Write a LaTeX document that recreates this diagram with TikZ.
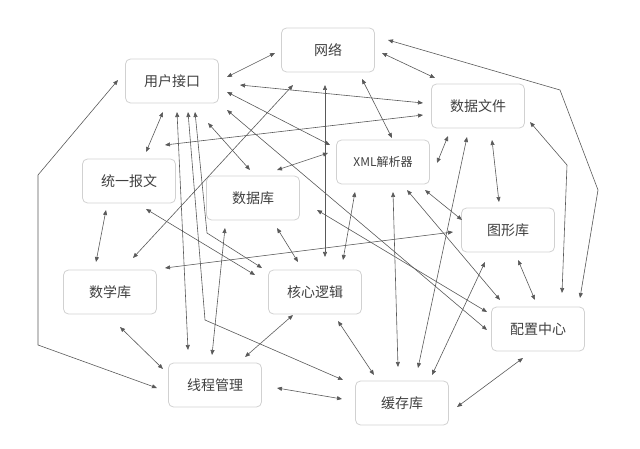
\documentclass[tikz,border=0pt]{standalone}
\usepackage{fontspec}
\newfontfamily\cjk{Noto Sans CJK SC}
\setmainfont{Liberation Serif}
\usetikzlibrary{arrows.meta}
\begin{document}
\begin{tikzpicture}[x=1pt,y=-1pt,
 box/.style={draw=black!18,line width=0.8pt,rounded corners=5pt,minimum width=93pt,minimum height=44pt,inner sep=0pt,font=\cjk\fontsize{14}{16}\selectfont,text=black!75},
 lk/.style={draw=black!65,line width=0.6pt,{Triangle[length=5pt,width=4pt]}-{Triangle[length=5pt,width=4pt]}}]
\useasboundingbox (0,0) rectangle (640,449);
\node[box] (ui) at (172,81) {用户接口};
\node[box] (net) at (328,50) {网络};
\node[box] (df) at (478,106) {数据文件};
\node[box] (xml) at (383,162) {\fontsize{12}{14}\selectfont XML解析器};
\node[box] (msg) at (129,181) {统一报文};
\node[box] (db) at (253,198) {数据库};
\node[box] (gfx) at (508,230) {图形库};
\node[box] (math) at (110,292) {数学库};
\node[box] (core) at (315,292) {核心逻辑};
\node[box] (cfg) at (538,329) {配置中心};
\node[box] (thr) at (215,385) {线程管理};
\node[box] (cache) at (402,403) {缓存库};
\draw[lk] (227,77)--(275,53);
\draw[lk] (240,85)--(423,103);
\draw[lk] (227,92)--(330,145);
\draw[lk] (277,170)--(328,153);
\draw[lk] (227,110)--(487,330);
\draw[lk] (317,210)--(487,312);
\draw[lk] (407,190)--(500,300);
\draw[lk] (425,190)--(462,220);
\draw[lk] (163,112)--(146,152);
\draw[lk] (177,112)--(188,350);
\draw[lk] (188,112)--(205,320)--(343,380);
\draw[lk] (195,112)--(207,233)--(262,268);
\draw[lk] (208,123)--(250,170);
\draw[lk] (106,210)--(96,262);
\draw[lk] (146,209)--(255,275);
\draw[lk] (293,85)--(133,258);
\draw[lk] (423,115)--(165,145);
\draw[lk] (382,53)--(435,78);
\draw[lk] (362,79)--(392,138);
\draw[lk] (325,85)--(325,257);
\draw[lk] (388,40)--(560,90)--(598,190)--(580,298);
\draw[lk] (530,122)--(567,165)--(562,293);
\draw[lk] (492,140)--(499,202);
\draw[lk] (448,136)--(437,163);
\draw[lk] (467,137)--(418,368);
\draw[lk] (118,80)--(38,175)--(38,345)--(157,388);
\draw[lk] (453,232)--(165,268);
\draw[lk] (277,228)--(298,262);
\draw[lk] (225,228)--(212,355);
\draw[lk] (355,192)--(343,260);
\draw[lk] (393,192)--(398,367);
\draw[lk] (485,262)--(432,375);
\draw[lk] (518,260)--(535,300);
\draw[lk] (523,358)--(457,407);
\draw[lk] (338,321)--(374,375);
\draw[lk] (293,315)--(245,357);
\draw[lk] (120,327)--(163,369);
\draw[lk] (342,399)--(277,388);
\end{tikzpicture}
\end{document}
